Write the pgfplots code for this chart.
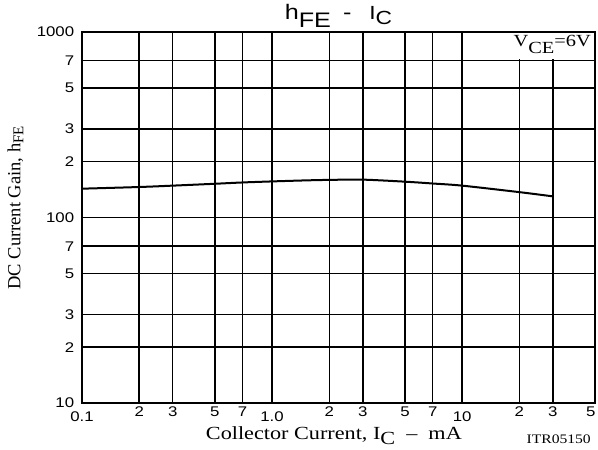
\documentclass[border=0pt]{standalone}
\usepackage{fontspec}
\setmainfont{Liberation Serif}
\setsansfont{Liberation Sans}
\usepackage{pgfplots}
\pgfplotsset{compat=1.18}

\begin{document}
\begin{tikzpicture}
\begin{axis}[
  scale only axis, width=513pt, height=371pt,
  xmode=log, ymode=log, xmin=0.1, xmax=50, ymin=10, ymax=1000,
  axis line style={line width=1.6pt},
  grid=major, major grid style={black, line width=1.5pt},
  major tick length=0pt,
  xtick={0.2,0.3,0.5,0.7,2,3,5,7,20,30,50},
  xticklabels={2,3,5,7,2,3,5,7,2,3,{5\hspace*{7pt}}},
  extra x ticks={0.1,1,10},
  extra x tick labels={0.1,1.0,10},
  extra x tick style={grid=major, major tick length=0pt, tick label style={yshift=-5pt}},
  ytick={20,30,50,70,200,300,500,700},
  yticklabels={2,3,5,7,2,3,5,7},
  extra y ticks={10,100,1000},
  extra y tick labels={10,100,1000},
  extra y tick style={grid=major, major tick length=0pt},
  tick label style={font=\sffamily\fontsize{14}{14}\selectfont, xscale=1.2},
  yticklabel style={xshift=-3pt},
  clip=false,
]
\addplot[black, line width=2pt, smooth] coordinates {
(0.1,143) (0.2,146) (0.3,148.5) (0.5,152) (0.7,154.5) (1,156.5) (1.5,158.5)
(2,159.5) (3,160) (5,156) (7,152.5) (10,148.5) (20,137) (30,130)};

\fill[white] (axis cs:15,715) rectangle (axis cs:50,1000);
\draw[line width=1.6pt] (rel axis cs:0.6,1) -- (rel axis cs:1,1) -- (rel axis cs:1,0.8);

\node[anchor=base east, xscale=1.2, font=\fontsize{17}{17}\selectfont, xshift=0pt, yshift=-15pt]
  at (rel axis cs:1,1) {V\raisebox{-7pt}{CE}=6V};

\node[anchor=base, xscale=1.2, font=\sffamily\fontsize{21}{21}\selectfont, yshift=12pt]
  at (rel axis cs:0.5,1) {h\raisebox{-8pt}{FE}\hspace{10pt}-\hspace{15pt}{\fontsize{19}{19}\selectfont I\raisebox{-5pt}{C}}};

\node[anchor=base, xscale=1.2, font=\fontsize{18.5}{18.5}\selectfont, yshift=-36pt]
  at (rel axis cs:0.491,0) {Collector Current, I\raisebox{-5pt}{C}\ \ –\ \ mA};

\coordinate (YL) at (rel axis cs:0,0.526);

\node[anchor=base east, xscale=1.2, font=\fontsize{13}{13}\selectfont, yshift=-40pt]
  at (rel axis cs:1,0) {ITR05150};

\coordinate (SW) at (rel axis cs:0,0);
\coordinate (NE) at (rel axis cs:1,1);
\end{axis}
\node[anchor=center, rotate=90, font=\fontsize{18.5}{18.5}\selectfont]
  at ([xshift=-66.5pt]YL) {DC Current Gain, h\raisebox{-3pt}{\fontsize{15}{15}\selectfont FE}};
\pgfresetboundingbox
\path[use as bounding box] ([shift={(-82pt,-46pt)}]SW) rectangle ([shift={(3pt,32pt)}]NE);
\end{tikzpicture}
\end{document}
